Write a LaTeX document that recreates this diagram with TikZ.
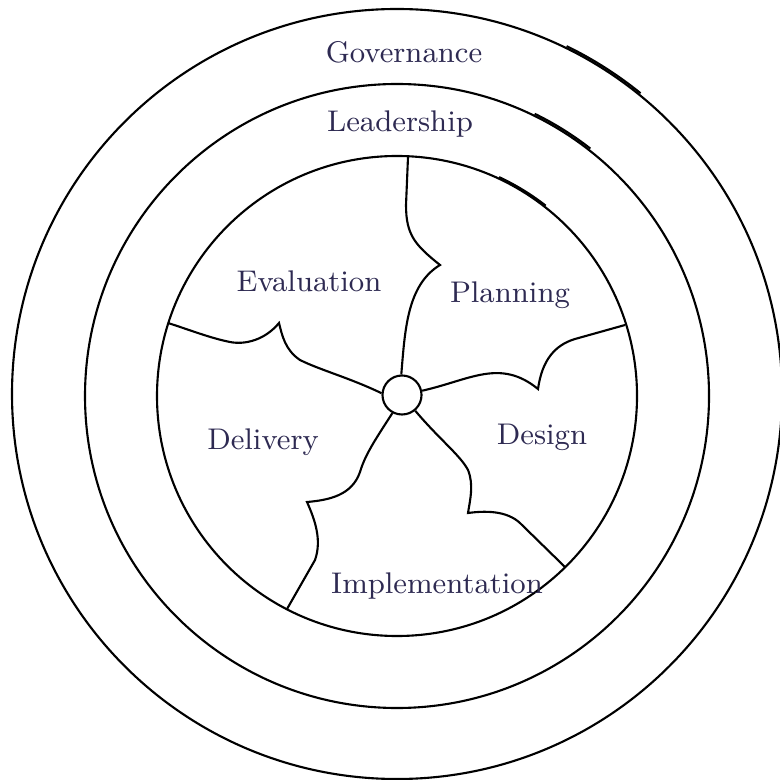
\documentclass[tikz,border=0pt]{standalone}
\definecolor{labelink}{HTML}{2E2A52}
\begin{document}
\begin{tikzpicture}[x=0.01cm, y=-0.01cm, line width=0.6pt,
    phaselabel/.style={text=labelink, font=\fontsize{8.5}{10}\selectfont, anchor=base},
    hubnode/.style={circle, draw, fill=white, minimum size=0.39cm, inner sep=0pt}]
	\useasboundingbox (0,0) rectangle (780,780);

	% Rings (with the overlapping stroke ends)
	\draw (397,394) circle[radius=385];
	\draw (397,394) ++(-64:387) arc[start angle=-64, end angle=-51, radius=387];
	\draw (397,396) circle[radius=312];
	\draw (397,396) ++(-64:314) arc[start angle=-64, end angle=-52, radius=314];
	\draw (397,396) circle[radius=240];
	\draw (397,396) ++(-65:241.5) arc[start angle=-65, end angle=-52, radius=241.5];

	% Hub and rim points
	\node[hubnode] (hub) at (402,395) {};
	\coordinate (rimTop) at (408,157);
	\coordinate (rimRight) at (625,325);
	\coordinate (rimLowRight) at (565,567);
	\coordinate (rimLowLeft) at (287,609);
	\coordinate (rimLeft) at (168,323);

	% Dividers
	\draw (hub.92) .. controls (405,330) and (407,285) .. (440,265)
		.. controls (415,245) and (406,235) .. (406,205) -- (rimTop);
	\draw (hub.12) .. controls (470,380) and (500,358) .. (538,389)
		.. controls (542,360) and (555,345) .. (575,339) -- (rimRight);
	\draw (hub.-50) .. controls (440,440) and (460,455) .. (468,470)
		.. controls (474,485) and (470,500) .. (468,513)
		.. controls (490,510) and (510,512) .. (522,525) -- (rimLowRight);
	\draw (hub.-118) .. controls (375,440) and (365,455) .. (360,472)
		.. controls (352,495) and (330,500) .. (307,502)
		.. controls (315,520) and (322,540) .. (315,560) -- (rimLowLeft);
	\draw (hub.175) .. controls (350,378) and (320,370) .. (300,360)
		.. controls (285,350) and (282,335) .. (279,323)
		.. controls (265,340) and (245,345) .. (230,342)
		.. controls (210,338) and (190,330) .. (rimLeft);

	% Labels
	\node[phaselabel] (governance) at (404,63) {Governance};
	\node[phaselabel] (leadership) at (400,132) {Leadership};
	\node[phaselabel] (evaluation) at (309,292) {Evaluation};
	\node[phaselabel] (planning) at (510,303) {Planning};
	\node[phaselabel] (delivery) at (263,449) {Delivery};
	\node[phaselabel] (design) at (542,445) {Design};
	\node[phaselabel] (implementation) at (437,593) {Implementation};
\end{tikzpicture}
\end{document}
